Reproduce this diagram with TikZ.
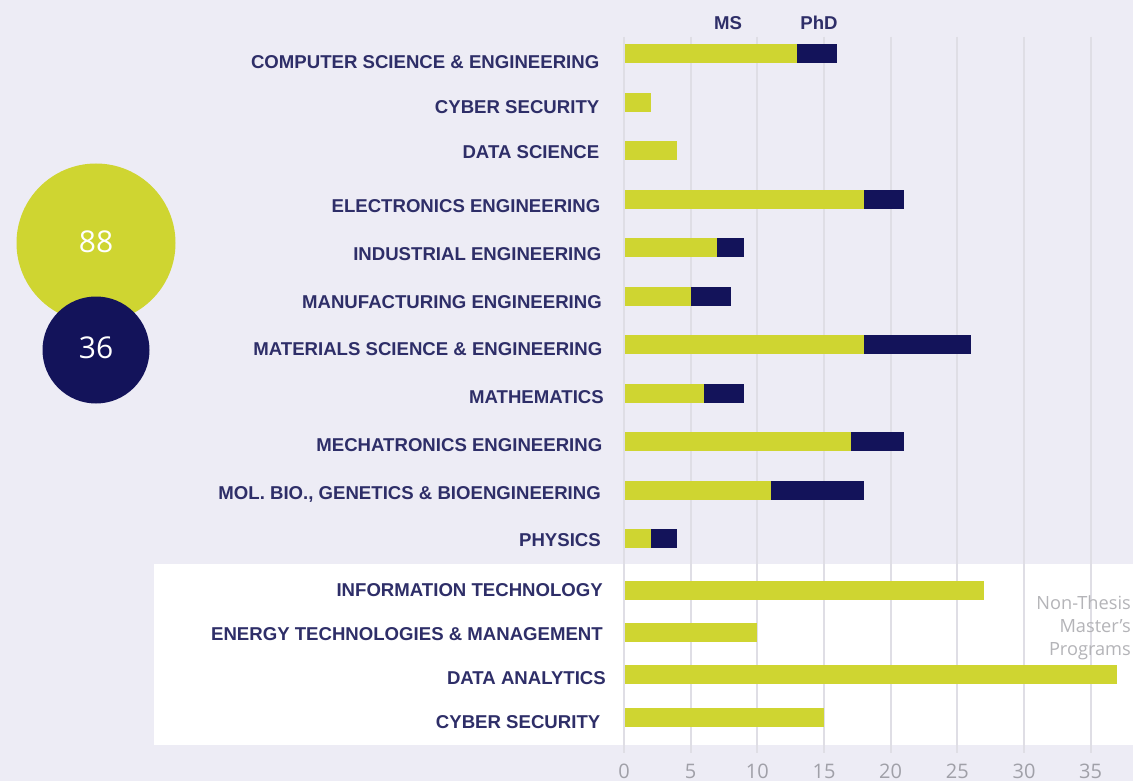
\documentclass[tikz,border=0pt]{standalone}
\usepackage{fontspec}
\setmainfont{Liberation Sans}
\newfontfamily\numfont{Open Sans}
\definecolor{bg}{HTML}{EDECF5}
\definecolor{lime}{HTML}{CFD531}
\definecolor{navy}{HTML}{13135A}
\definecolor{lbl}{HTML}{2E2E68}
\definecolor{gridc}{HTML}{DFDEE5}
\definecolor{tickc}{HTML}{A0A0A8}
\definecolor{notec}{HTML}{B4B4B8}
\begin{document}
\begin{tikzpicture}[x=1pt,y=-1pt,
  catlabel/.style={font=\fontsize{18.6}{20}\selectfont\bfseries, text=lbl, anchor=base east, inner sep=0pt},
  headlabel/.style={font=\fontsize{18.6}{20}\selectfont\bfseries, text=lbl, anchor=base, inner sep=0pt},
  ticklabel/.style={font=\numfont\fontsize{20}{22}\selectfont, text=tickc, anchor=center, inner sep=0pt},
  gridline/.style={draw=gridc, line width=2pt},
  msbar/.style={fill=lime},
  phdbar/.style={fill=navy},
  bignum/.style={font=\numfont\fontsize{30}{32}\selectfont, text=white, anchor=center, inner sep=0pt},
  notetext/.style={font=\numfont\fontsize{18.2}{23}\selectfont, text=notec, align=right, anchor=north east, inner sep=0pt}]
\useasboundingbox (0,0) rectangle (1133,781);
\fill[bg] (0,0) rectangle (1133,781);
\fill[white] (154,564) rectangle (1133,745);
% grid
\foreach \v in {0,5,...,35} {
  \pgfmathsetmacro\gx{round(624+\v*13.333)}
  \draw[gridline] (\gx,37) -- (\gx,753);
  \node[ticklabel] (tick\v) at ({624+\v*13.333},771) {\v};
}
% note
\node[notetext] (note) at (1131,595) {Non-Thesis\\Master’s\\Programs};
% headers
\node[headlabel] (ms) at (728,30) {MS};
\node[headlabel] (phd) at (819,30) {PhD};
% rows: bar centre / label baseline / label right / label / ms / total
\foreach \i/\yc/\yb/\xr/\txt/\ms/\tot in {
  1/53.7/68.3/599.5/{COMPUTER SCIENCE \& ENGINEERING}/13/16,
  2/102.2/113.3/599.5/{CYBER SECURITY}/2/2,
  3/150.7/158.3/599.5/{DATA SCIENCE}/4/4,
  4/199.2/212.3/600.5/{ELECTRONICS ENGINEERING}/18/21,
  5/247.7/260.7/601.5/{INDUSTRIAL ENGINEERING}/7/9,
  6/296.2/308.7/602/{MANUFACTURING ENGINEERING}/5/8,
  7/344.7/355.7/602.5/{MATERIALS SCIENCE \& ENGINEERING}/18/26,
  8/393.2/403.3/604/{MATHEMATICS}/6/9,
  9/441.7/451/602.5/{MECHATRONICS ENGINEERING}/17/21,
  10/490.2/499.3/601/{MOL. BIO., GENETICS \& BIOENGINEERING}/11/18,
  11/538.7/546.7/601/{PHYSICS}/2/4,
  12/590.5/596/603/{INFORMATION TECHNOLOGY}/27/27,
  13/632.8/640/603/{ENERGY TECHNOLOGIES \& MANAGEMENT}/10/10,
  14/674.7/684/606/{DATA ANALYTICS}/37/37,
  15/717.3/728.3/600.5/{CYBER SECURITY}/15/15} {
  \node[catlabel] (lab\i) at (\xr,\yb) {\txt};
  \fill[msbar] (625,{\yc-9.6}) rectangle ({624+\ms*13.333},{\yc+9.6});
  \ifnum\tot>\ms
    \fill[phdbar] ({624+\ms*13.333},{\yc-9.6}) rectangle ({624+\tot*13.333},{\yc+9.6});
  \fi
}
% circles
\fill[lime] (96,243) circle (79.5);
\node[bignum] (n88) at (96,242.2) {88};
\fill[navy] (96,350) circle (53.5);
\node[bignum] (n36) at (96,347.5) {36};
\end{tikzpicture}
\end{document}
